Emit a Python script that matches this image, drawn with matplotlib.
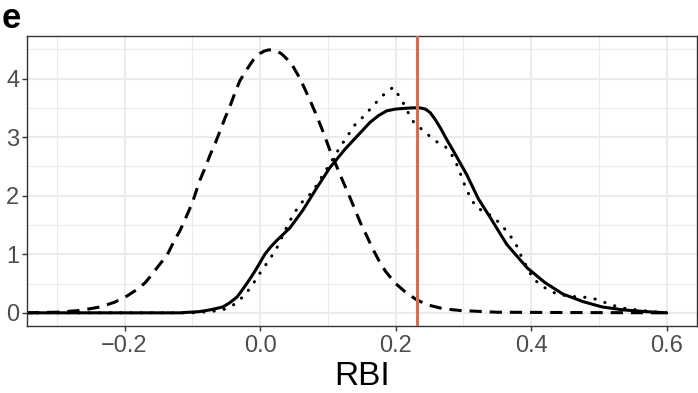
import numpy as np
import matplotlib.pyplot as plt

plt.rcParams['font.family'] = ['Liberation Sans', 'DejaVu Sans']

# density curves (RBI, density)
dashed_x = [-0.344, -0.30, -0.266, -0.236, -0.215, -0.196, -0.180, -0.170, -0.162, -0.150,
            -0.137, -0.128, -0.118, -0.109, -0.100, -0.089, -0.081, -0.074, -0.066, -0.059,
            -0.052, -0.044, -0.037, -0.030, -0.020, -0.010, 0.000, 0.006, 0.012, 0.018,
            0.025, 0.032, 0.040, 0.048, 0.056, 0.065, 0.074, 0.083, 0.092, 0.103,
            0.118, 0.133, 0.148, 0.158, 0.165, 0.175, 0.185, 0.200, 0.214, 0.230,
            0.246, 0.270, 0.295, 0.350, 0.450, 0.600]
dashed_y = [0.0, 0.01, 0.04, 0.10, 0.18, 0.29, 0.41, 0.51, 0.62, 0.80,
            0.99, 1.20, 1.41, 1.64, 1.88, 2.26, 2.48, 2.69, 2.90, 3.11,
            3.32, 3.54, 3.76, 3.96, 4.15, 4.32, 4.43, 4.47, 4.49, 4.49,
            4.47, 4.42, 4.33, 4.22, 4.06, 3.85, 3.62, 3.38, 3.12, 2.78,
            2.36, 1.96, 1.54, 1.30, 1.12, 0.90, 0.71, 0.50, 0.36, 0.23,
            0.14, 0.07, 0.04, 0.01, 0.005, 0.0]

solid_x = [-0.344, -0.20, -0.118, -0.090, -0.074, -0.055, -0.045, -0.034, -0.027, -0.019,
           -0.011, -0.004, 0.007, 0.016, 0.025, 0.044, 0.063, 0.084, 0.103, 0.113,
           0.125, 0.137, 0.150, 0.162, 0.175, 0.187, 0.200, 0.211, 0.224, 0.236,
           0.244, 0.251, 0.258, 0.266, 0.275, 0.285, 0.305, 0.322, 0.339, 0.364,
           0.394, 0.420, 0.447, 0.477, 0.505, 0.536, 0.570, 0.600]
solid_y = [0.0, 0.0, 0.0, 0.02, 0.05, 0.10, 0.17, 0.27, 0.38, 0.51,
           0.65, 0.78, 1.00, 1.13, 1.24, 1.45, 1.75, 2.14, 2.48, 2.62,
           2.79, 2.94, 3.10, 3.25, 3.37, 3.45, 3.48, 3.49, 3.50, 3.50,
           3.48, 3.42, 3.31, 3.16, 2.97, 2.77, 2.36, 1.95, 1.64, 1.17,
           0.77, 0.52, 0.32, 0.19, 0.10, 0.05, 0.02, 0.0]

dotted_x = [-0.344, -0.10, -0.074, -0.055, -0.037, -0.022, -0.010, 0.000, 0.012, 0.024,
            0.040, 0.050, 0.062, 0.077, 0.098, 0.118, 0.140, 0.155, 0.167, 0.182,
            0.196, 0.208, 0.217, 0.227, 0.242, 0.258, 0.274, 0.286, 0.294, 0.301,
            0.309, 0.319, 0.336, 0.352, 0.365, 0.377, 0.385, 0.403, 0.420, 0.438,
            0.458, 0.477, 0.497, 0.517, 0.536, 0.556, 0.580, 0.600]
dotted_y = [0.0, 0.0, 0.02, 0.05, 0.15, 0.31, 0.50, 0.68, 0.88, 1.09,
            1.48, 1.70, 1.89, 2.06, 2.45, 2.83, 3.21, 3.38, 3.54, 3.72,
            3.85, 3.66, 3.45, 3.25, 3.10, 2.94, 2.83, 2.65, 2.43, 2.21,
            2.00, 1.80, 1.70, 1.55, 1.38, 1.19, 0.98, 0.58, 0.43, 0.32,
            0.28, 0.27, 0.23, 0.14, 0.08, 0.05, 0.02, 0.0]

observed = 0.232

x_major = [-0.2, 0.0, 0.2, 0.4, 0.6]
x_labels = ['\u22120.2', '0.0', '0.2', '0.4', '0.6']
x_minor = [-0.3, -0.1, 0.1, 0.3, 0.5]
y_major = [0, 1, 2, 3, 4]
y_minor = [0.5, 1.5, 2.5, 3.5, 4.5]

fig = plt.figure(figsize=(6.98, 3.93), dpi=100)
ax = fig.add_axes([0.0387, 0.1705, 0.96, 0.7375])

grid = '#EBEBEB'
for v in x_minor:
    ax.axvline(v, color=grid, lw=0.8, zorder=0)
for v in y_minor:
    ax.axhline(v, color=grid, lw=0.8, zorder=0)
for v in x_major:
    ax.axvline(v, color=grid, lw=1.5, zorder=0)
for v in y_major:
    ax.axhline(v, color=grid, lw=1.5, zorder=0)

lw = 2.2
ax.plot(dashed_x, dashed_y, color='black', lw=lw, dashes=(4, 2.6), dash_capstyle='butt')
ax.plot(solid_x, solid_y, color='black', lw=lw, solid_capstyle='round')
ax.plot(dotted_x, dotted_y, color='black', lw=lw, dashes=(0.1, 3.3), dash_capstyle='round')
ax.axvline(observed, color='#D56E50', lw=2.2, zorder=3)

ax.set_xlim(-0.344, 0.645)
ax.set_ylim(-0.225, 4.725)
ax.set_xticks(x_major)
ax.set_xticklabels(x_labels)
ax.set_yticks(y_major)
ax.tick_params(axis='both', colors='#333333', labelcolor='#4D4D4D', labelsize=17,
               length=3.5, width=1)
ax.tick_params(axis='x', pad=3)
ax.tick_params(axis='y', pad=2)
for s in ax.spines.values():
    s.set_color('#333333')
    s.set_linewidth(1)

ax.set_xlabel('RBI', fontsize=24, color='black', labelpad=3)
fig.text(0.002, 0.995, 'e', fontsize=25, fontweight='bold', va='top', ha='left')

fig.savefig('out.png', dpi=100)
